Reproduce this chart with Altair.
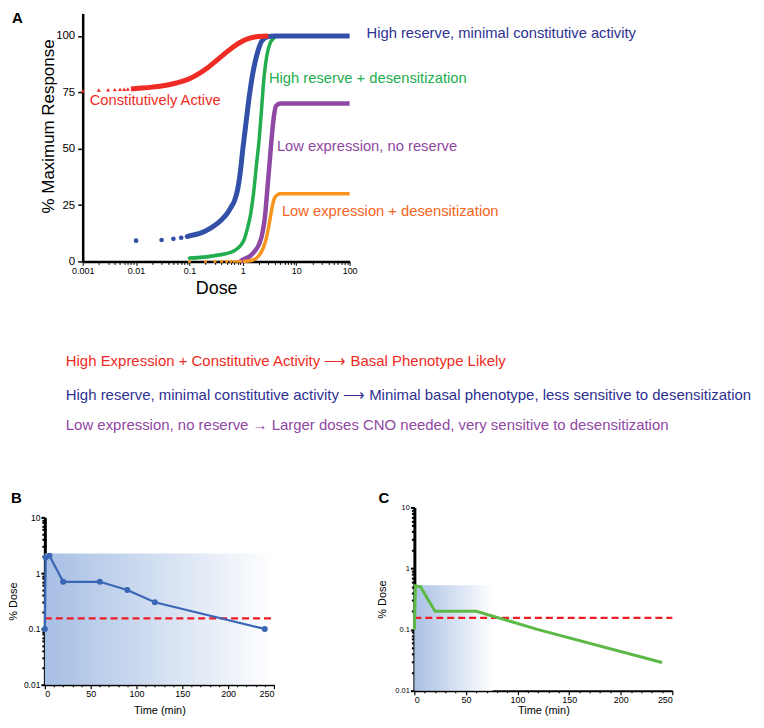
import altair as alt
import pandas as pd

FONT = "Liberation Sans"

# ---------------- Panel A data (dose, % maximum response) ----------------
RED_DOSE = [0.008, 0.01, 0.02, 0.03, 0.05, 0.07, 0.1, 0.14, 0.2, 0.3, 0.45, 0.65, 0.9, 1.3, 2, 3]
RED_VAL = [76.5, 76.7, 77.3, 77.8, 78.8, 79.7, 81.0, 82.8, 85.2, 88.5, 92.0, 95.0, 97.2, 98.9, 99.8, 100]
RED_MARK_DOSE = [0.001, 0.002, 0.003, 0.004, 0.005, 0.006, 0.007]
RED_MARK_VAL = [75.7, 76.0, 76.1, 76.2, 76.3, 76.4, 76.45]

BLUE_DOSE = [0.09, 0.1, 0.15, 0.2, 0.3, 0.4, 0.5, 0.6, 0.7, 0.8, 0.9, 1.0, 1.1, 1.25, 1.5, 1.9, 2.3, 3, 4, 100]
BLUE_VAL = [11.0, 11.3, 12.3, 13.5, 16.0, 18.5, 21.0, 24.0, 27.0, 32.0, 40.0, 50.0, 58.0, 69.0, 82.0, 93.0, 98.0, 99.7, 100, 100]
BLUE_MARK_DOSE = [0.01, 0.03, 0.05, 0.07, 0.09]
BLUE_MARK_VAL = [9.2, 9.5, 10.0, 10.5, 11.0]

GREEN_DOSE = [0.1, 0.2, 0.3, 0.5, 0.7, 0.9, 1.05, 1.2, 1.4, 1.6, 1.8, 2.0, 2.2, 2.5, 2.8, 3.2, 3.6, 4.4]
GREEN_VAL = [1.5, 2.0, 2.6, 3.5, 4.8, 7.0, 9.5, 14.0, 21.0, 31.0, 43.0, 53.0, 65.0, 82.0, 91.0, 96.5, 98.5, 100]
GREEN_MARK_DOSE = [0.1, 0.12, 0.14, 0.16, 0.18, 0.2, 0.22, 0.25, 0.28, 0.32, 0.36, 0.4]
GREEN_MARK_VAL = [1.5, 1.6, 1.7, 1.8, 1.9, 2.0, 2.1, 2.2, 2.4, 2.6, 2.8, 3.0]

PURPLE_DOSE = [0.9, 1.0, 1.3, 1.6, 2.0, 2.3, 2.6, 2.9, 3.2, 3.5, 3.8, 4.2, 5, 100]
PURPLE_VAL = [0, 0.8, 2.0, 4.0, 7.5, 12.0, 20.0, 33.0, 45.0, 56.0, 64.0, 69.0, 70, 70]

ORANGE_DOSE = [1.0, 1.5, 1.9, 2.2, 2.5, 2.8, 3.0, 3.3, 3.6, 3.9, 4.5, 5, 100]
ORANGE_VAL = [0, 0.5, 2.0, 4.0, 7.0, 11.0, 14.5, 20.0, 25.0, 28.0, 29.7, 30, 30]
ORANGE_MARK_DOSE = [0.1, 0.2, 0.3, 0.4, 0.5, 0.6, 0.7, 0.8, 0.9]
ORANGE_MARK_VAL = [0, 0, 0, 0, 0, 0, 0, 0, 0]

A_LABELS = [
    "High reserve, minimal constitutive activity",
    "High reserve + desensitization",
    "Low expression, no reserve",
    "Low expression +  desensitization",
    "Constitutively Active",
]
A_X_TICKS = [m * 10.0 ** e for e in range(-3, 2) for m in range(1, 10)] + [100]
A_Y_TICKS = [0, 25, 50, 75, 100]

# ---------------- Middle text ----------------
TEXT_LINES = [
    "High Expression + Constitutive Activity \u27f6  Basal Phenotype Likely",
    "High reserve, minimal constitutive activity \u27f6 Minimal basal phenotype,  less sensitive to desensitization",
    "Low expression, no reserve \u2192 Larger doses CNO needed, very sensitive to desensitization",
]

# ---------------- Panel B / C data (% dose vs time) ----------------
B_TIME = [0, 1, 5, 20, 60, 90, 120, 240]
B_DOSE = [0.1, 1.9, 2.05, 0.7, 0.7, 0.5, 0.3, 0.1]
B_SHADE_T = [0, 250]
B_SHADE_Y = [0.01, 2.25]

C_TIME = [0, 1, 6, 20, 60, 120, 240]
C_DOSE = [0.1, 0.52, 0.5, 0.2, 0.2, 0.1, 0.029]
C_SHADE_T = [0, 76]
C_SHADE_Y = [0.01, 0.53]

THRESHOLD = [0.155]
TIME_TICKS = list(range(0, 251, 10))
LOG_TICKS = [m * 10.0 ** e for e in range(-2, 1) for m in range(1, 10)] + [10]

RED, BLUE, GREEN, PURPLE, ORANGE = "#ee2b24", "#3350a8", "#22ad4e", "#8f48a3", "#f7941d"
BLUE_TXT, ORANGE_TXT = "#2e3192", "#f26522"

DECADE = "abs(log(datum.value)/LN10 - round(log(datum.value)/LN10)) < 0.000001"

# shared left origin of all rows (page x of panel B plot = 43); panel A axis sits 38px further right
X0 = 43
A_SHIFT = 81 - X0
TOP = 12.5  # page y of panel A plot top


def df(x, y):
    return pd.DataFrame({"x": x, "y": y})


# ======================= Panel A =======================
WA, HA = 268, 249
xA = alt.X(
    "x:Q",
    scale=alt.Scale(type="log", domain=[0.001, 100], range=[A_SHIFT, A_SHIFT + WA]),
    axis=alt.Axis(
        values=A_X_TICKS, format="~g", labelExpr=f"{DECADE} ? datum.label : ''",
        title="Dose", titleFontSize=18, titleFontWeight="normal", titleX=A_SHIFT + WA / 2, titleY=27,
        titleBaseline="middle", labelFontSize=9, labelPadding=1,
        tickSize={"condition": {"test": DECADE, "value": 4}, "value": 3},
        tickWidth=1, domainWidth=2.5, labelFlush=False,
    ),
)
yA = alt.Y(
    "y:Q",
    scale=alt.Scale(domain=[0, 110]),
    axis=alt.Axis(
        values=A_Y_TICKS, title="% Maximum Response", titleFontSize=17, titleFontWeight="normal",
        titleX=-34, titleY=113, titleBaseline="middle", titleAlign="center", titleAngle=-90,
        labelFontSize=11.5, tickSize=5, tickWidth=1.5, domainWidth=2.5, labelPadding=3,
        offset=-A_SHIFT,
    ),
)


def curve(x, y, color, width):
    return alt.Chart(df(x, y)).mark_line(color=color, strokeWidth=width, interpolate="monotone").encode(x=xA, y=yA)


def marks(x, y, color, shape, size):
    return alt.Chart(df(x, y)).mark_point(color=color, shape=shape, size=size, filled=True, opacity=1).encode(x=xA, y=yA)


def label(txt, x, y, color, size=14.8, weight="normal"):
    return alt.Chart(pd.DataFrame({"t": [txt]})).mark_text(
        align="left", baseline="middle", font=FONT, fontSize=size, fontWeight=weight, color=color
    ).encode(x=alt.value(x), y=alt.value(y), text="t:N")


panelA = alt.layer(
    curve(PURPLE_DOSE, PURPLE_VAL, PURPLE, 4.5),
    curve(ORANGE_DOSE, ORANGE_VAL, ORANGE, 3.5),
    marks(ORANGE_MARK_DOSE, ORANGE_MARK_VAL, ORANGE, "circle", 10),
    curve(GREEN_DOSE, GREEN_VAL, GREEN, 3.5),
    marks(GREEN_MARK_DOSE, GREEN_MARK_VAL, GREEN, "cross", 14),
    curve(BLUE_DOSE, BLUE_VAL, BLUE, 5),
    marks(BLUE_MARK_DOSE, BLUE_MARK_VAL, BLUE, "circle", 22),
    curve(RED_DOSE, RED_VAL, RED, 5),
    marks(RED_MARK_DOSE, RED_MARK_VAL, RED, "triangle-up", 16),
    label(A_LABELS[0], 366 - X0, 33 - TOP, BLUE_TXT),
    label(A_LABELS[1], 268 - X0, 78 - TOP, GREEN),
    label(A_LABELS[2], 276 - X0, 147 - TOP, PURPLE),
    label(A_LABELS[3], 281 - X0, 212 - TOP, ORANGE_TXT),
    label(A_LABELS[4], 88 - X0, 100 - TOP, RED),
    label("A", 10 - X0, 5, "black", 15, "bold"),
).properties(width=A_SHIFT + WA, height=HA)

# ======================= Middle text =======================
MID_TOP = 295.5
mid = alt.layer(
    label(TEXT_LINES[0], 64 - X0, 360 - MID_TOP, RED, 15),
    label(TEXT_LINES[1], 64 - X0, 394 - MID_TOP, BLUE_TXT, 15),
    label(TEXT_LINES[2], 64 - X0, 424 - MID_TOP, PURPLE, 15),
).properties(width=600, height=194.5)


# ======================= Panels B, C =======================
def time_panel(t, d, shade_t, shade_y, line_color, shade_color, w, h, top, letter, let_x,
               with_points, lab_size, title_x, title_y):
    xs = alt.X(
        "x:Q", scale=alt.Scale(domain=[0, 250], nice=False),
        axis=alt.Axis(
            values=TIME_TICKS, labelExpr="datum.value % 50 == 0 ? datum.label : ''",
            tickSize={"condition": {"test": "datum.value % 50 == 0", "value": 4}, "value": 2},
            title="Time (min)", titleFontSize=11, titleFontWeight="normal", titleBaseline="middle",
            titleX=w / 2, titleY=title_y, labelFontSize=9, domainWidth=2, tickWidth=1.2, labelPadding=1,
        ),
    )
    ys = alt.Y(
        "y:Q", scale=alt.Scale(type="log", domain=[0.01, 10], range=[h, top]),
        axis=alt.Axis(
            values=LOG_TICKS, format="~g", labelExpr=f"{DECADE} ? datum.label : ''",
            tickSize={"condition": {"test": DECADE, "value": 4}, "value": 3},
            tickWidth=2, domainWidth=3, labelFontSize=lab_size, labelPadding=1,
            title="% Dose", titleFontSize=11, titleFontWeight="normal", titleAngle=-90,
            titleBaseline="middle", titleAlign="center", titleX=title_x, titleY=(h + top) / 2,
        ),
    )
    grad = alt.LinearGradient(
        gradient="linear", x1=0, x2=1, y1=0, y2=0,
        stops=[alt.GradientStop(color=shade_color, offset=0), alt.GradientStop(color="#ffffff", offset=1)],
    )
    shade = alt.Chart(pd.DataFrame({"x": [shade_t[0]], "x2": [shade_t[1]], "y": [shade_y[0]], "y2": [shade_y[1]]})).mark_rect(
        fill=grad
    ).encode(x=xs, x2="x2:Q", y=ys, y2="y2:Q")
    thr = alt.Chart(pd.DataFrame({"y": THRESHOLD, "x": [0], "x2": [250]})).mark_rule(
        color="#ee1c24", strokeWidth=2.2, strokeDash=[7, 4]
    ).encode(x=xs, x2="x2:Q", y=ys)
    line = alt.Chart(df(t, d)).mark_line(
        color=line_color, strokeWidth=2.2 if with_points else 3,
        point=alt.OverlayMarkDef(filled=True, size=36, color=line_color) if with_points else False,
    ).encode(x=xs, y=ys)
    let = label(letter, let_x, -9, "black", 15, "bold")
    return alt.layer(shade, thr, line, let).properties(width=w, height=h)


# row origin (plot top) at page y = 506; panel B's axis starts 10px lower
panelB = time_panel(B_TIME, B_DOSE, B_SHADE_T, B_SHADE_Y, "#3a66b5", "#a7bfe4", 230, 178, 10, "B", -34,
                    True, 8.5, -31, 26)
panelC = time_panel(C_TIME, C_DOSE, C_SHADE_T, C_SHADE_Y, "#5cb946", "#a9c0e5", 259, 184, 0, "C", -36,
                    False, 7.5, -32, 20)

bottom = alt.concat(panelB, panelC, columns=2, spacing=101)

chart = alt.concat(panelA, mid, bottom, columns=1, spacing=0).properties(
    padding={"top": 2, "left": 0, "right": 0, "bottom": 0}
).configure_view(stroke=None).configure_axis(
    domainColor="black", tickColor="black", labelColor="black", titleColor="black",
    labelFont=FONT, titleFont=FONT, grid=False,
)

chart.save("out.html", embed_options={"renderer": "svg", "actions": False})
